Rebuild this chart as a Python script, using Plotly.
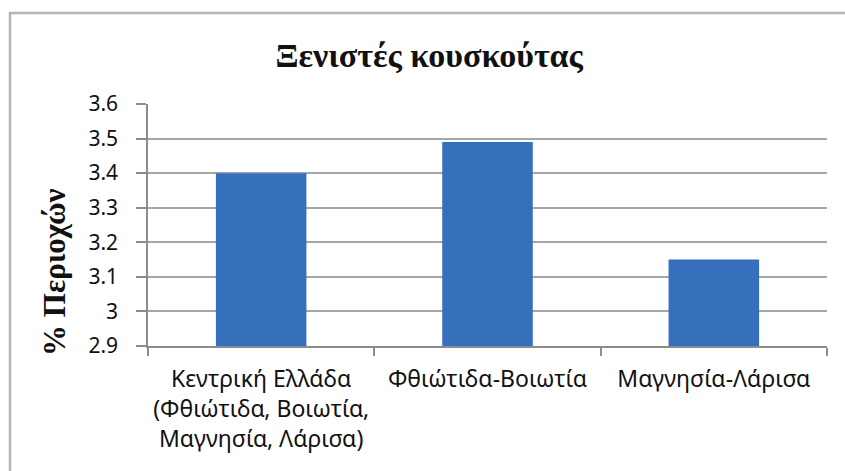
import plotly.graph_objects as go

categories = ["Κεντρική Ελλάδα<br>(Φθιώτιδα, Βοιωτία,<br>Μαγνησία, Λάρισα)",
              "Φθιώτιδα-Βοιωτία",
              "Μαγνησία-Λάρισα"]
values = [3.40, 3.49, 3.15]
axis_min = 2.9
tick_vals = [2.9, 3.0, 3.1, 3.2, 3.3, 3.4, 3.5, 3.6]
tick_text = ["2.9", "3", "3.1", "3.2", "3.3", "3.4", "3.5", "3.6"]
title_text = "Ξενιστές κουσκούτας"
ytitle_text = "% Περιοχών"

fig = go.Figure()
fig.add_trace(go.Bar(
    x=categories, y=[v - axis_min for v in values], base=axis_min,
    marker=dict(color="#3670bd", line=dict(width=0)),
    width=0.4,
))

fig.update_layout(
    width=845, height=471,
    margin=dict(l=148, r=18, t=104, b=125),
    paper_bgcolor="white", plot_bgcolor="white",
    showlegend=False,
    font=dict(family="Noto Sans", size=21, color="#111111"),
    title=dict(text=title_text, x=0.508, xanchor="center", y=0.883, yanchor="middle",
               font=dict(family="Liberation Serif", size=34, color="#111111", weight="bold")),
    xaxis=dict(type="category", showgrid=False, showline=True, linecolor="#8c8c8c", linewidth=1.5,
               ticks="outside", tickson="boundaries", ticklen=8, tickcolor="#8c8c8c", tickwidth=1.5,
               tickfont=dict(family="Noto Sans", size=23), ticklabelstandoff=12),
    yaxis=dict(range=[2.9, 3.6], tickvals=tick_vals, ticktext=tick_text,
               showgrid=True, gridcolor="#a6a6a6", gridwidth=1.8,
               showline=True, linecolor="#8c8c8c", linewidth=1.5,
               ticks="outside", ticklen=10, tickcolor="#8c8c8c", tickwidth=1.5,
               tickfont=dict(family="Noto Sans", size=21), ticklabelstandoff=14, zeroline=False),
    bargap=0.6,
)
fig.add_annotation(text=ytitle_text, xref="paper", yref="paper", x=-93 / 679, y=0.306,
                   xanchor="center", yanchor="middle", textangle=-90, showarrow=False,
                   font=dict(family="Liberation Serif", size=31, color="#111111", weight="bold"))
fig.add_shape(type="rect", xref="paper", yref="paper",
              x0=-138 / 679, x1=1.2, y0=-0.6, y1=(346 - 13) / 242,
              line=dict(color="#b4b4b4", width=2.5), fillcolor="rgba(0,0,0,0)", layer="below")
fig.write_html("out.html", config={"displayModeBar": False},
               post_script="document.body.style.margin='0';")
